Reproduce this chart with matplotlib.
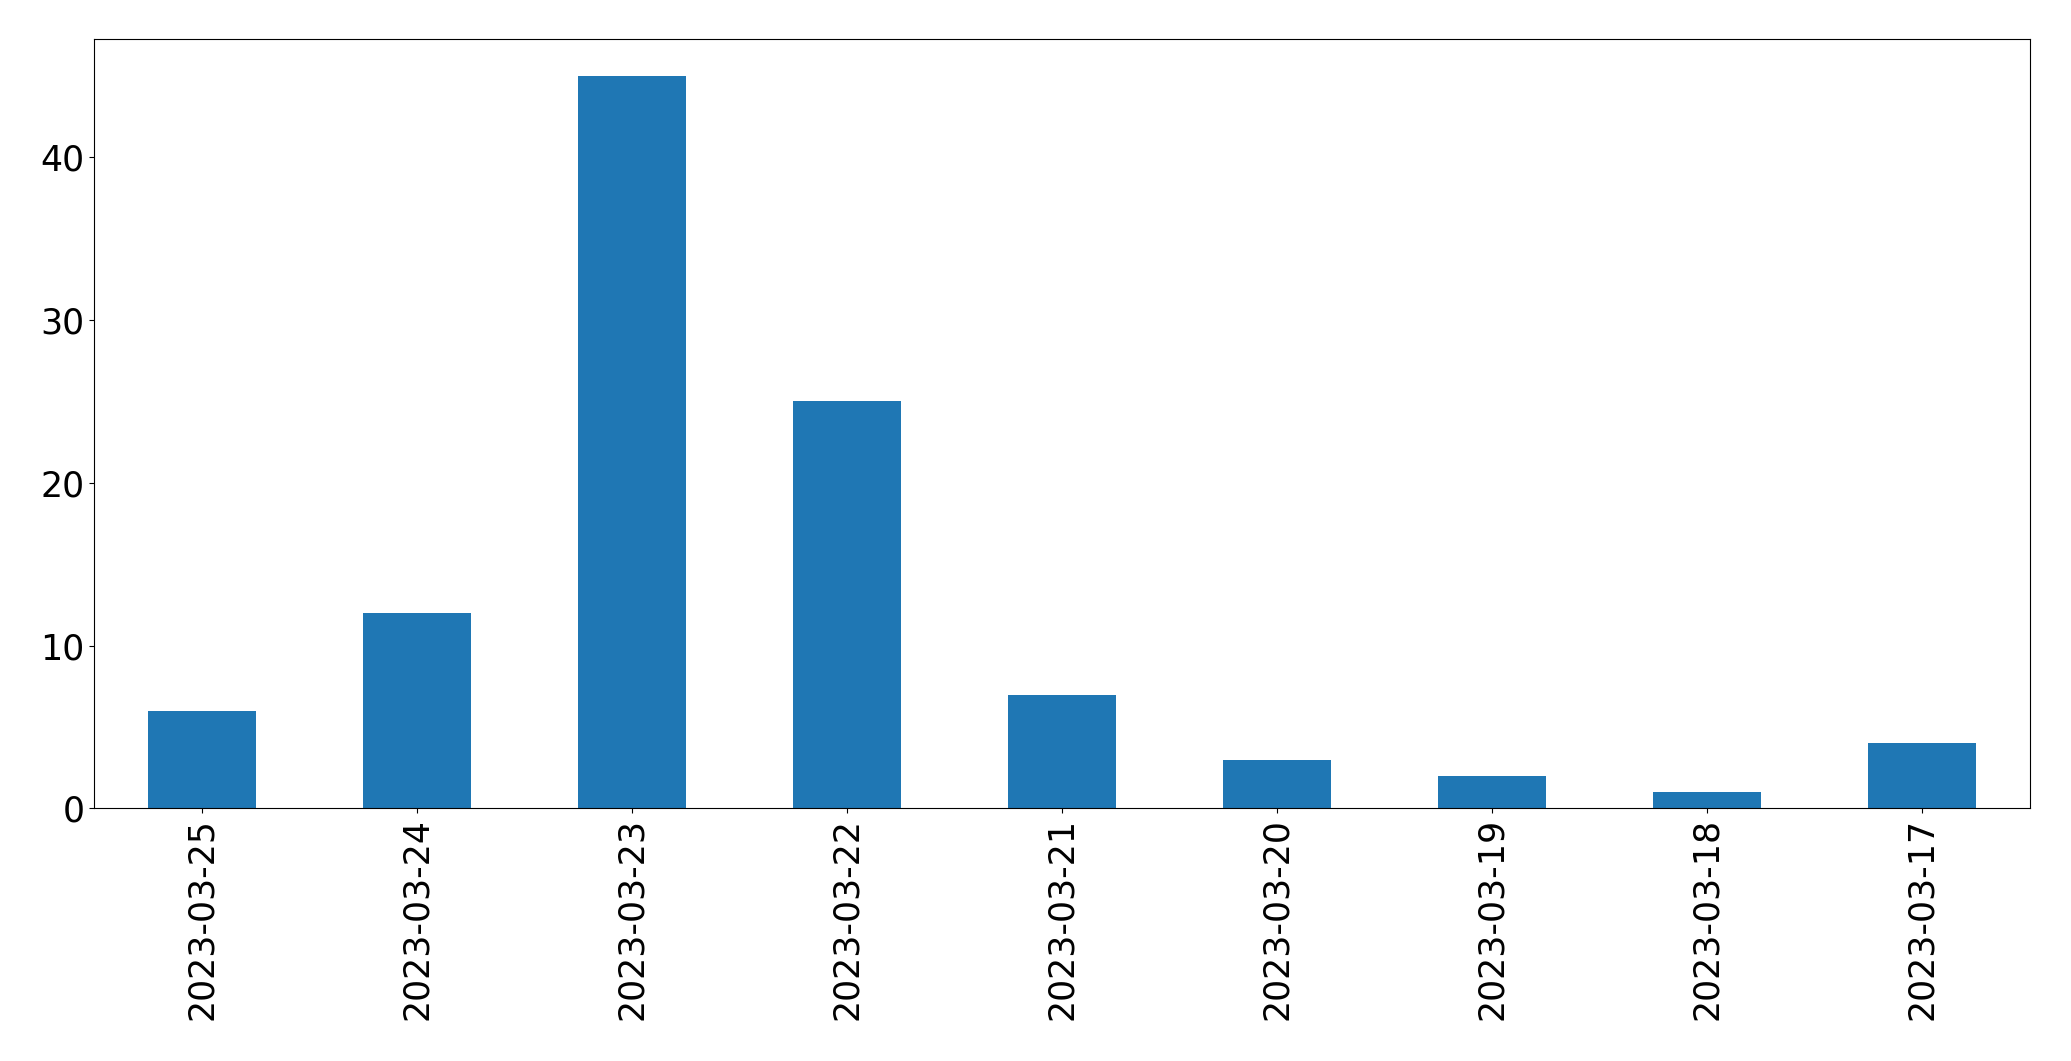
import matplotlib
matplotlib.use("Agg")
import matplotlib.pyplot as plt
import numpy as np

dates = ["2023-03-25", "2023-03-24", "2023-03-23", "2023-03-22", "2023-03-21",
         "2023-03-20", "2023-03-19", "2023-03-18", "2023-03-17"]
counts = [6, 12, 45, 25, 7, 3, 2, 1, 4]

fig = plt.figure(figsize=(20.71, 10.61), dpi=100)
ax = fig.add_axes([0.0455, 0.238, 0.9345, 0.725])
x = np.arange(len(dates))
ax.bar(x, counts, width=0.5, color="#1f77b4")
ax.set_xlim(-0.5, len(dates) - 0.5)
ax.set_xticks(x)
ax.set_xticklabels(dates, rotation=90)
ax.tick_params(axis="both", labelsize=25)
fig.savefig("out.png", dpi=100)
